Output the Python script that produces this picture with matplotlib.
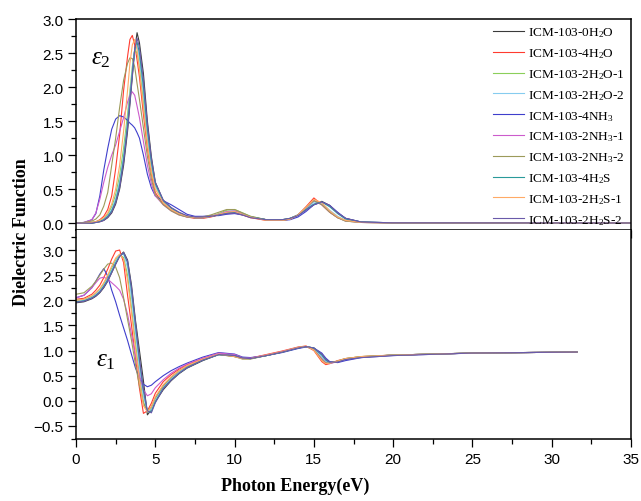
"""Dielectric function (eps2 / eps1) of ICM-103 with adsorbed molecules."""
import matplotlib
matplotlib.use("Agg")
import matplotlib.pyplot as plt
from matplotlib.ticker import MultipleLocator

plt.rcParams["mathtext.fontset"] = "custom"
plt.rcParams["mathtext.rm"] = "Liberation Serif"
plt.rcParams["mathtext.it"] = "Liberation Serif:italic"
plt.rcParams["font.family"] = ["Liberation Sans", "DejaVu Sans"]

# ---- data ---------------------------------------------------------------
labels = [
    "ICM-103-0H$_2$O", "ICM-103-4H$_2$O", "ICM-103-2H$_2$O-1", "ICM-103-2H$_2$O-2",
    "ICM-103-4NH$_3$", "ICM-103-2NH$_3$-1", "ICM-103-2NH$_3$-2", "ICM-103-4H$_2$S",
    "ICM-103-2H$_2$S-1", "ICM-103-2H$_2$S-2",
]
colors = ["#3a3a3a", "#ff3b2f", "#8bcf5a", "#86ccef", "#3f3fcc",
          "#cc5ccc", "#9c9a5a", "#2a9a9a", "#ffaa66", "#6a5aaa"]

# photon energy grid (eV) for the imaginary part
e_top = [0, 0.5, 1.0, 1.25, 1.5, 1.75, 2.0, 2.25, 2.5, 2.75,
         3.0, 3.25, 3.4, 3.55, 3.7, 3.85, 4.0, 4.25, 4.5, 4.75,
         5.0, 5.5, 6.0, 6.5, 7.0, 7.5, 8.0, 8.5, 9.0, 9.5,
         10.0, 10.5, 11.0, 12.0, 13.0, 13.5, 14.0, 14.5, 15.0, 15.5,
         16.0, 16.5, 17.0, 18.0, 20.0, 35.0]

eps2_0h2o = [0, 0, 0, 0.01, 0.02, 0.04, 0.08, 0.15, 0.28, 0.5,
             0.85, 1.35, 1.75, 2.15, 2.55, 2.8, 2.65, 2.2, 1.5, 0.98,
             0.6, 0.33, 0.22, 0.15, 0.1, 0.08, 0.08, 0.1, 0.12, 0.15,
             0.16, 0.13, 0.09, 0.05, 0.05, 0.07, 0.12, 0.2, 0.27, 0.32,
             0.26, 0.15, 0.07, 0.015, 0.005, 0.002]
eps2_4h2o = [0, 0, 0.01, 0.02, 0.05, 0.1, 0.2, 0.4, 0.8, 1.3,
             1.95, 2.45, 2.7, 2.76, 2.62, 2.4, 2.15, 1.6, 1.1, 0.72,
             0.45, 0.28, 0.19, 0.13, 0.09, 0.07, 0.07, 0.09, 0.12, 0.14,
             0.15, 0.12, 0.08, 0.04, 0.04, 0.06, 0.12, 0.24, 0.37, 0.27,
             0.16, 0.08, 0.04, 0.01, 0.004, 0.002]
eps2_2h2o_1 = [0, 0, 0.01, 0.02, 0.04, 0.07, 0.13, 0.24, 0.42, 0.7,
               1.1, 1.6, 1.95, 2.3, 2.55, 2.5, 2.3, 1.8, 1.25, 0.82,
               0.55, 0.31, 0.21, 0.14, 0.1, 0.08, 0.08, 0.1, 0.14, 0.19,
               0.2, 0.15, 0.1, 0.05, 0.04, 0.06, 0.12, 0.22, 0.33, 0.28,
               0.17, 0.08, 0.03, 0.01, 0.004, 0.002]
eps2_2h2o_2 = [0, 0, 0.01, 0.01, 0.03, 0.06, 0.11, 0.2, 0.36, 0.62,
               1.0, 1.5, 1.88, 2.25, 2.55, 2.6, 2.42, 1.9, 1.3, 0.85,
               0.56, 0.32, 0.21, 0.14, 0.1, 0.08, 0.08, 0.1, 0.13, 0.17,
               0.18, 0.14, 0.09, 0.05, 0.04, 0.06, 0.11, 0.2, 0.31, 0.29,
               0.19, 0.1, 0.04, 0.01, 0.004, 0.002]
eps2_4nh3 = [0, 0.01, 0.05, 0.14, 0.4, 0.78, 1.1, 1.38, 1.53, 1.58,
             1.56, 1.51, 1.47, 1.44, 1.4, 1.33, 1.25, 1.0, 0.72, 0.52,
             0.4, 0.33, 0.27, 0.2, 0.13, 0.1, 0.1, 0.11, 0.11, 0.13,
             0.14, 0.12, 0.09, 0.05, 0.04, 0.05, 0.09, 0.17, 0.27, 0.31,
             0.26, 0.16, 0.07, 0.015, 0.005, 0.002]
eps2_2nh3_1 = [0, 0.01, 0.05, 0.15, 0.35, 0.6, 0.82, 1.0, 1.15, 1.35,
               1.55, 1.78, 1.88, 1.93, 1.88, 1.72, 1.55, 1.2, 0.85, 0.58,
               0.4, 0.27, 0.18, 0.12, 0.09, 0.08, 0.08, 0.1, 0.13, 0.17,
               0.18, 0.14, 0.09, 0.05, 0.04, 0.06, 0.12, 0.22, 0.33, 0.27,
               0.16, 0.08, 0.03, 0.01, 0.004, 0.002]
eps2_2nh3_2 = [0, 0.01, 0.03, 0.06, 0.12, 0.25, 0.45, 0.85, 1.25, 1.7,
               2.1, 2.35, 2.43, 2.42, 2.3, 2.05, 1.82, 1.4, 0.98, 0.65,
               0.42, 0.27, 0.18, 0.12, 0.09, 0.08, 0.09, 0.12, 0.16, 0.2,
               0.2, 0.15, 0.1, 0.05, 0.04, 0.06, 0.12, 0.23, 0.33, 0.27,
               0.16, 0.08, 0.03, 0.01, 0.004, 0.002]
eps2_4h2s = [0, 0, 0, 0.01, 0.03, 0.05, 0.1, 0.18, 0.32, 0.56,
             0.94, 1.45, 1.82, 2.2, 2.55, 2.66, 2.5, 2.0, 1.38, 0.9,
             0.58, 0.33, 0.22, 0.15, 0.1, 0.08, 0.08, 0.1, 0.12, 0.15,
             0.16, 0.13, 0.09, 0.05, 0.05, 0.07, 0.12, 0.2, 0.28, 0.31,
             0.24, 0.14, 0.06, 0.015, 0.005, 0.002]
eps2_2h2s_1 = [0, 0, 0.01, 0.02, 0.04, 0.08, 0.15, 0.28, 0.5, 0.85,
               1.35, 1.95, 2.35, 2.62, 2.7, 2.55, 2.25, 1.7, 1.15, 0.75,
               0.5, 0.3, 0.2, 0.14, 0.1, 0.08, 0.08, 0.1, 0.13, 0.16,
               0.17, 0.13, 0.09, 0.04, 0.04, 0.06, 0.12, 0.23, 0.35, 0.3,
               0.18, 0.09, 0.04, 0.01, 0.004, 0.002]
eps2_2h2s_2 = [0, 0, 0, 0.01, 0.02, 0.04, 0.09, 0.16, 0.3, 0.52,
               0.9, 1.4, 1.78, 2.18, 2.55, 2.72, 2.58, 2.1, 1.45, 0.95,
               0.6, 0.34, 0.23, 0.16, 0.11, 0.09, 0.09, 0.1, 0.12, 0.14,
               0.15, 0.12, 0.08, 0.05, 0.05, 0.07, 0.11, 0.19, 0.27, 0.31,
               0.26, 0.15, 0.07, 0.015, 0.005, 0.002]

# photon energy grid (eV) for the real part
e_bot = [0, 0.5, 1.0, 1.25, 1.5, 1.75, 2.0, 2.25, 2.5, 2.75,
         3.0, 3.25, 3.5, 3.75, 4.0, 4.25, 4.5, 4.75, 5.0, 5.5,
         6.0, 6.5, 7.0, 8.0, 9.0, 10.0, 10.5, 11.0, 12.0, 13.0,
         14.0, 14.5, 15.0, 15.5, 15.75, 16.0, 16.5, 17.0, 18.0, 20.0,
         25.0, 31.6]

eps1_0h2o = [1.95, 1.97, 2.03, 2.08, 2.15, 2.25, 2.38, 2.55, 2.72, 2.88,
             2.96, 2.8, 2.3, 1.6, 1.0, 0.4, -0.28, -0.18, -0.02, 0.22,
             0.4, 0.54, 0.65, 0.8, 0.92, 0.9, 0.85, 0.84, 0.9, 0.97,
             1.05, 1.08, 1.05, 0.92, 0.82, 0.76, 0.78, 0.83, 0.87, 0.91,
             0.95, 0.97]
eps1_4h2o = [2.02, 2.04, 2.12, 2.2, 2.3, 2.45, 2.62, 2.82, 2.98, 3.0,
             2.75, 2.1, 1.5, 0.85, 0.25, -0.25, -0.2, -0.05, 0.15, 0.38,
             0.52, 0.63, 0.72, 0.84, 0.93, 0.88, 0.85, 0.85, 0.92, 0.99,
             1.07, 1.09, 1.0, 0.78, 0.72, 0.74, 0.8, 0.84, 0.88, 0.91,
             0.95, 0.97]
eps1_2h2o_1 = [2.0, 2.02, 2.08, 2.14, 2.22, 2.33, 2.47, 2.64, 2.8, 2.9,
               2.85, 2.5, 1.85, 1.15, 0.5, -0.02, -0.22, -0.15, 0.05, 0.3,
               0.46, 0.58, 0.68, 0.82, 0.92, 0.88, 0.84, 0.84, 0.9, 0.97,
               1.06, 1.08, 1.02, 0.84, 0.76, 0.75, 0.79, 0.84, 0.88, 0.91,
               0.95, 0.97]
eps1_2h2o_2 = [1.98, 2.0, 2.06, 2.12, 2.19, 2.3, 2.43, 2.6, 2.77, 2.9,
               2.92, 2.65, 2.05, 1.35, 0.65, 0.08, -0.2, -0.18, 0.02, 0.28,
               0.45, 0.57, 0.67, 0.82, 0.92, 0.89, 0.85, 0.84, 0.9, 0.97,
               1.05, 1.08, 1.04, 0.88, 0.79, 0.75, 0.78, 0.83, 0.87, 0.91,
               0.95, 0.97]
eps1_4nh3 = [2.05, 2.1, 2.25, 2.38, 2.52, 2.63, 2.48, 2.2, 1.97, 1.7,
             1.45, 1.2, 0.92, 0.65, 0.45, 0.33, 0.28, 0.31, 0.38, 0.5,
             0.6, 0.68, 0.75, 0.87, 0.96, 0.93, 0.87, 0.86, 0.9, 0.96,
             1.04, 1.07, 1.05, 0.95, 0.85, 0.78, 0.76, 0.8, 0.86, 0.9,
             0.95, 0.97]
eps1_2nh3_1 = [2.05, 2.1, 2.25, 2.35, 2.44, 2.46, 2.42, 2.35, 2.28, 2.2,
               2.02, 1.72, 1.32, 0.9, 0.5, 0.22, 0.1, 0.14, 0.26, 0.42,
               0.55, 0.65, 0.73, 0.85, 0.95, 0.92, 0.86, 0.85, 0.91, 0.98,
               1.06, 1.08, 1.02, 0.84, 0.76, 0.74, 0.78, 0.83, 0.87, 0.91,
               0.95, 0.97]
eps1_2nh3_2 = [2.12, 2.15, 2.28, 2.38, 2.5, 2.62, 2.72, 2.74, 2.66, 2.45,
               2.05, 1.62, 1.2, 0.72, 0.3, -0.05, -0.2, -0.12, 0.06, 0.3,
               0.47, 0.6, 0.69, 0.82, 0.92, 0.88, 0.83, 0.83, 0.9, 0.97,
               1.06, 1.08, 1.02, 0.82, 0.75, 0.75, 0.79, 0.84, 0.88, 0.91,
               0.95, 0.97]
eps1_4h2s = [1.97, 1.99, 2.05, 2.1, 2.17, 2.28, 2.41, 2.57, 2.74, 2.88,
             2.94, 2.75, 2.2, 1.5, 0.8, 0.2, -0.22, -0.22, -0.02, 0.25,
             0.42, 0.55, 0.66, 0.81, 0.92, 0.9, 0.85, 0.84, 0.9, 0.97,
             1.05, 1.08, 1.05, 0.91, 0.81, 0.76, 0.78, 0.83, 0.87, 0.91,
             0.95, 0.97]
eps1_2h2s_1 = [2.0, 2.02, 2.09, 2.15, 2.23, 2.35, 2.5, 2.68, 2.84, 2.92,
               2.82, 2.4, 1.75, 1.05, 0.4, -0.1, -0.22, -0.12, 0.08, 0.32,
               0.48, 0.6, 0.7, 0.83, 0.93, 0.88, 0.84, 0.84, 0.91, 0.98,
               1.06, 1.09, 1.01, 0.8, 0.74, 0.75, 0.79, 0.84, 0.88, 0.91,
               0.95, 0.97]
eps1_2h2s_2 = [1.96, 1.98, 2.04, 2.09, 2.16, 2.26, 2.39, 2.55, 2.72, 2.87,
               2.95, 2.78, 2.25, 1.55, 0.85, 0.25, -0.2, -0.24, -0.04, 0.24,
               0.41, 0.55, 0.66, 0.81, 0.92, 0.9, 0.85, 0.84, 0.9, 0.97,
               1.05, 1.08, 1.05, 0.93, 0.83, 0.77, 0.77, 0.82, 0.86, 0.9,
               0.95, 0.97]

eps2_all = [eps2_0h2o, eps2_4h2o, eps2_2h2o_1, eps2_2h2o_2, eps2_4nh3,
            eps2_2nh3_1, eps2_2nh3_2, eps2_4h2s, eps2_2h2s_1, eps2_2h2s_2]
eps1_all = [eps1_0h2o, eps1_4h2o, eps1_2h2o_1, eps1_2h2o_2, eps1_4nh3,
            eps1_2nh3_1, eps1_2nh3_2, eps1_4h2s, eps1_2h2s_1, eps1_2h2s_2]

# ---- figure --------------------------------------------------------------
fig = plt.figure(figsize=(6.41, 5.02), dpi=100)
ax_top = fig.add_axes([0.1186, 0.540, 0.8658, 0.420])
ax_bot = fig.add_axes([0.1186, 0.1235, 0.8658, 0.4165])

for y, lab, c in zip(eps2_all, labels, colors):
    ax_top.plot(e_top, y, color=c, lw=0.8, label=lab)
for y, c in zip(eps1_all, colors):
    ax_bot.plot(e_bot, y, color=c, lw=0.8)

ax_top.set_xlim(0, 35)
ax_top.set_ylim(-0.1, 3.0)
ax_bot.set_xlim(0, 35)
ax_bot.set_ylim(-0.76, 3.4)

for ax in (ax_top, ax_bot):
    ax.xaxis.set_major_locator(MultipleLocator(5))
    ax.xaxis.set_minor_locator(MultipleLocator(2.5))
    ax.yaxis.set_major_locator(MultipleLocator(0.5))
    ax.yaxis.set_minor_locator(MultipleLocator(0.25))
    ax.tick_params(which="both", direction="out", width=0.9, labelsize=11,
                   top=False, right=False)
    ax.tick_params(which="major", length=6, pad=3)
    ax.tick_params(which="minor", length=3.5)
    for s in ax.spines.values():
        s.set_linewidth(1.1)

ax_top.tick_params(axis="x", labelbottom=False)
ax_bot.spines["top"].set_visible(False)
ax_bot.set_yticks([-0.5, 0, 0.5, 1.0, 1.5, 2.0, 2.5, 3.0])
ax_top.set_yticks([0, 0.5, 1.0, 1.5, 2.0, 2.5, 3.0])

ax_top.text(1.58, 2.44, r"$\varepsilon_{\mathit{2}}$", fontsize=18, ha="center", va="center")
ax_bot.text(1.9, 0.83, r"$\varepsilon_{\mathit{1}}$", fontsize=18, ha="center", va="center")

ax_top.legend(loc="upper right", frameon=False, bbox_to_anchor=(1.0, 1.0),
              borderaxespad=0.1, prop={"family": "Liberation Serif", "size": 9.5},
              handlelength=2.3, handletextpad=0.3, labelspacing=0.53)

fig.text(0.034, 0.538, "Dielectric Function", rotation=90, ha="center", va="center",
         family="Liberation Serif", weight="bold", fontsize=13)
fig.text(0.46, 0.032, "Photon Energy(eV)", ha="center", va="center",
         family="Liberation Serif", weight="bold", fontsize=13)

fig.savefig("out.png", dpi=100)
